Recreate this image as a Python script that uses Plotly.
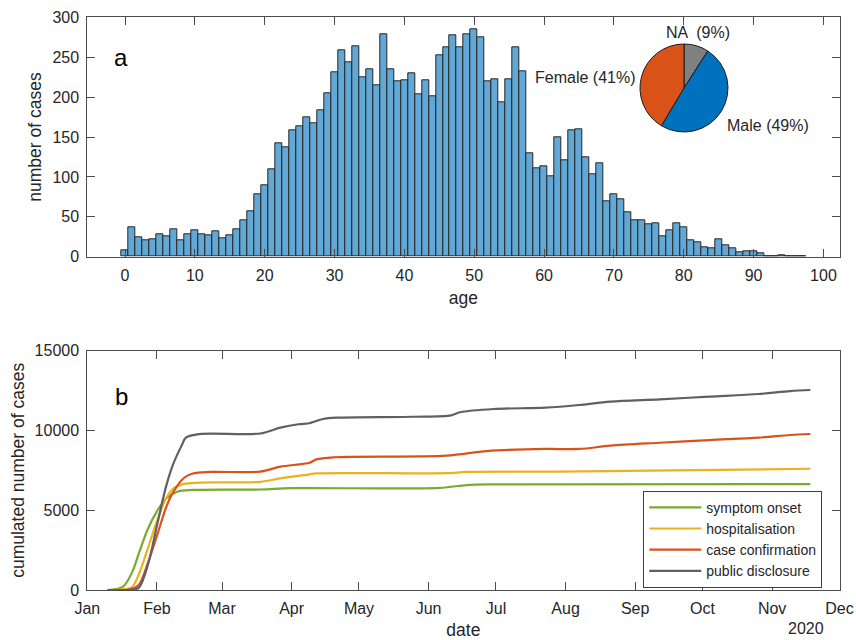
import plotly.graph_objects as go

# ---------------- data ----------------
ages = list(range(0, 98))
age_counts = [8, 37, 24, 21, 22, 28, 25, 34, 21, 28,
              33, 28, 27, 32, 23, 27, 34, 45, 57, 78,
              90, 110, 142, 137, 158, 163, 175, 167, 183, 205,
              231, 259, 243, 264, 225, 235, 215, 279, 235, 220,
              221, 230, 203, 221, 201, 253, 262, 277, 262, 279,
              285, 275, 220, 222, 194, 222, 262, 232, 129, 111,
              113, 101, 150, 121, 158, 160, 125, 103, 117, 69,
              78, 72, 56, 46, 45, 41, 42, 26, 33, 42,
              37, 21, 18, 12, 11, 22, 14, 10, 6, 7,
              7, 4, 0, 1, 2, 1, 1, 1]

sex_labels = ["NA", "Male", "Female"]
sex_share = [9, 49, 41]
sex_text = ["NA  (9%)", "Male (49%)", "Female (41%)"]

onset_dates = ["2020-01-10", "2020-01-14", "2020-01-17", "2020-01-21", "2020-01-24", "2020-01-28",
               "2020-02-01", "2020-02-05", "2020-02-10", "2020-02-17", "2020-03-18", "2020-04-01",
               "2020-06-06", "2020-06-18", "2020-07-01", "2020-11-18"]
onset_vals = [0, 60, 210, 1120, 2310, 3840, 4930, 5720, 6160, 6270, 6300, 6380,
              6400, 6580, 6620, 6640]

hosp_dates = ["2020-01-10", "2020-01-17", "2020-01-21", "2020-01-24", "2020-01-28", "2020-02-01",
              "2020-02-05", "2020-02-08", "2020-02-13", "2020-02-20", "2020-03-18", "2020-03-27",
              "2020-04-09", "2020-04-12", "2020-06-09", "2020-06-18", "2020-07-29", "2020-11-18"]
hosp_vals = [0, 40, 200, 1000, 2630, 4320, 5720, 6315, 6650, 6730, 6780, 7000,
             7250, 7310, 7320, 7400, 7420, 7600]

conf_dates = ["2020-01-10", "2020-01-18", "2020-01-21", "2020-01-24", "2020-01-28", "2020-02-01",
              "2020-02-05", "2020-02-08", "2020-02-13", "2020-02-17", "2020-02-25", "2020-03-18",
              "2020-03-27", "2020-04-09", "2020-04-12", "2020-04-20", "2020-06-09", "2020-06-27",
              "2020-07-23", "2020-08-07", "2020-08-21", "2020-09-12", "2020-10-04", "2020-10-26",
              "2020-11-09", "2020-11-18"]
conf_vals = [0, 0, 80, 330, 1700, 3390, 5140, 6070, 7020, 7300, 7400, 7420,
             7730, 7980, 8190, 8320, 8420, 8710, 8840, 8840, 9045, 9230, 9400, 9550,
             9716, 9780]

disc_dates = ["2020-01-10", "2020-01-19", "2020-01-21", "2020-01-24", "2020-01-28", "2020-02-01",
              "2020-02-05", "2020-02-08", "2020-02-12", "2020-02-14", "2020-02-20", "2020-03-18",
              "2020-03-27", "2020-04-04", "2020-04-09", "2020-04-11", "2020-04-15", "2020-04-21",
              "2020-05-25", "2020-06-11", "2020-06-15", "2020-06-30", "2020-07-23", "2020-08-07",
              "2020-08-21", "2020-09-12", "2020-10-04", "2020-10-26", "2020-11-09", "2020-11-18"]
disc_vals = [0, 0, 20, 150, 1590, 4030, 6450, 7800, 9050, 9560, 9775, 9810,
             10180, 10390, 10450, 10550, 10720, 10800, 10860, 10950, 11140, 11345, 11430, 11596,
             11805, 11950, 12120, 12285, 12470, 12536]

month_ticks = ["2020-01-01", "2020-02-01", "2020-03-01", "2020-04-01", "2020-05-01", "2020-06-01",
               "2020-07-01", "2020-08-01", "2020-09-01", "2020-10-01", "2020-11-01", "2020-12-01"]
month_labels = ["Jan", "Feb", "Mar", "Apr", "May", "Jun", "Jul", "Aug", "Sep", "Oct", "Nov", "Dec"]

# ---------------- figure ----------------
W, H = 856, 640
FONT = "Liberation Sans, Arial, Helvetica, sans-serif"
TXT = "#262626"
AX = "#4d4d4d"

def px_x(p):
    return p / W

def px_y(p):
    return 1 - p / H

fig = go.Figure()

fig.add_trace(go.Bar(x=ages, y=age_counts, width=1,
                     marker=dict(color="rgb(97,168,215)", line=dict(color="#262626", width=1)),
                     showlegend=False, xaxis="x", yaxis="y"))

fig.add_trace(go.Pie(labels=sex_labels, values=sex_share, sort=False, direction="clockwise",
                     rotation=0, textinfo="none", hoverinfo="label+percent",
                     marker=dict(colors=["rgb(128,128,128)", "rgb(0,114,189)", "rgb(217,83,25)"],
                                 line=dict(color="#1a1a1a", width=1)),
                     domain=dict(x=[px_x(640), px_x(728)], y=[px_y(132), px_y(44)]),
                     showlegend=False))

series = [
    ("symptom onset", onset_dates, onset_vals, "rgb(119,172,48)"),
    ("hospitalisation", hosp_dates, hosp_vals, "rgb(237,177,32)"),
    ("case confirmation", conf_dates, conf_vals, "rgb(217,83,25)"),
    ("public disclosure", disc_dates, disc_vals, "rgb(96,96,96)"),
]
for name, d, v, c in series:
    fig.add_trace(go.Scatter(x=d, y=v, mode="lines", name=name,
                             line=dict(color=c, width=2.2, shape="spline", smoothing=0.9),
                             xaxis="x2", yaxis="y2"))

axis_common = dict(showline=True, linecolor=AX, linewidth=1, mirror="ticks",
                   ticks="inside", ticklen=8, tickcolor=AX, tickwidth=1,
                   showgrid=False, zeroline=False, automargin=False,
                   ticklabelstandoff=4,
                   tickfont=dict(family=FONT, size=16, color=TXT),
                   title_font=dict(family=FONT, size=17.5, color=TXT))

x0, x1 = px_x(87.3), px_x(839.5)

fig.update_layout(
    width=W, height=H,
    margin=dict(l=0, r=0, t=0, b=0, pad=0),
    paper_bgcolor="white", plot_bgcolor="white",
    bargap=0,
    font=dict(family=FONT, color=TXT),
    xaxis=dict(domain=[x0, x1], range=[-5.4, 102.3], tickvals=list(range(0, 101, 10)),
               title=dict(text="age", standoff=8), anchor="y", **axis_common),
    yaxis=dict(domain=[px_y(256.7), px_y(17.3)], range=[0, 300], tickvals=list(range(0, 301, 50)),
               title=dict(text="number of cases", standoff=6), anchor="x", **axis_common),
    xaxis2=dict(domain=[x0, x1], type="date", range=["2020-01-01", "2020-12-01"],
                tickvals=month_ticks, ticktext=month_labels,
                title=dict(text="date", standoff=10), anchor="y2", **axis_common),
    yaxis2=dict(domain=[px_y(590), px_y(350.7)], range=[0, 15000],
                tickvals=[0, 5000, 10000, 15000], tickformat="d",
                title=dict(text="cumulated number of cases", standoff=5), anchor="x2", **axis_common),
    legend=dict(x=px_x(643.3), y=px_y(490.7), xanchor="left", yanchor="top",
                bordercolor="#404040", borderwidth=1, bgcolor="white",
                font=dict(family=FONT, size=14, color=TXT),
                itemwidth=52, tracegroupgap=0),
    annotations=[
        dict(text="a", x=px_x(121), y=px_y(58), xref="paper", yref="paper", showarrow=False,
             xanchor="center", yanchor="middle", font=dict(family=FONT, size=24, color="black")),
        dict(text="b", x=px_x(121), y=px_y(396), xref="paper", yref="paper", showarrow=False,
             xanchor="center", yanchor="middle", font=dict(family=FONT, size=24, color="black")),
        dict(text=sex_text[0], x=px_x(698), y=px_y(32), xref="paper", yref="paper", showarrow=False,
             xanchor="center", yanchor="middle", font=dict(family=FONT, size=16, color=TXT)),
        dict(text=sex_text[1], x=px_x(768), y=px_y(125), xref="paper", yref="paper", showarrow=False,
             xanchor="center", yanchor="middle", font=dict(family=FONT, size=16, color=TXT)),
        dict(text=sex_text[2], x=px_x(585), y=px_y(77), xref="paper", yref="paper", showarrow=False,
             xanchor="center", yanchor="middle", font=dict(family=FONT, size=16, color=TXT)),
        dict(text="2020", x=px_x(806), y=px_y(628), xref="paper", yref="paper", showarrow=False,
             xanchor="center", yanchor="middle", font=dict(family=FONT, size=16, color=TXT)),
    ],
)

fig.write_html("out.html", config={"displayModeBar": False},
               post_script="document.body.style.margin='0';document.body.style.overflow='hidden';")
